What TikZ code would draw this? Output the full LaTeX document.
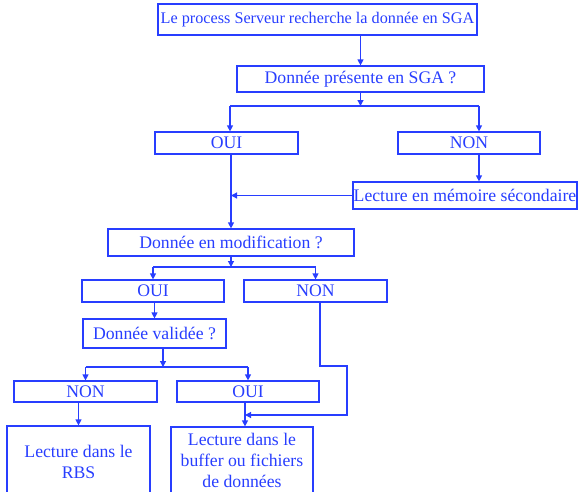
\documentclass[tikz,border=0pt]{standalone}
\usepackage{fontspec}
\setmainfont{Liberation Serif}
\usetikzlibrary{arrows.meta}
\definecolor{flow}{RGB}{40,62,255}
\begin{document}
\begin{tikzpicture}[x=1pt,y=-1pt,
  box/.style={draw=flow,line width=1.2pt,text=flow,inner sep=0pt,align=center,
    font=\fontsize{17.7}{21}\selectfont},
  arr/.style={draw=flow,line width=1.2pt,-{Triangle[length=6pt,width=6pt]}},
  ln/.style={draw=flow,line width=1.2pt}]
\useasboundingbox (0,0) rectangle (578,491);

% boxes
\node[box,minimum width=319pt,minimum height=31pt,font=\fontsize{16.2}{19}\selectfont] (b1) at (317.5,19.5) {Le process Serveur recherche la donnée en SGA};
\node[box,minimum width=247pt,minimum height=26pt] (b2) at (360.5,79) {Donnée présente en SGA ?};
\node[box,minimum width=143pt,minimum height=22pt] (oui1) at (226.5,143) {OUI};
\node[box,minimum width=142pt,minimum height=22pt] (non1) at (469,143) {NON};
\node[box,minimum width=224pt,minimum height=27pt] (lect) at (465,195.5) {Lecture en mémoire sécondaire};
\node[box,minimum width=246pt,minimum height=27pt] (modif) at (231,242.5) {Donnée en modification ?};
\node[box,minimum width=142pt,minimum height=22pt] (oui2) at (153,291) {OUI};
\node[box,minimum width=143pt,minimum height=22pt] (non2) at (315.5,291) {NON};
\node[box,minimum width=143pt,minimum height=29pt] (valid) at (154.5,333.5) {Donnée validée ?};
\node[box,minimum width=143pt,minimum height=21pt] (non3) at (85.5,391.5) {NON};
\node[box,minimum width=142pt,minimum height=21pt] (oui3) at (248,391.5) {OUI};
\node[box,minimum width=143pt,minimum height=71pt] (rbs) at (78.5,461.5) {Lecture dans le\\RBS};
\node[box,minimum width=142pt,minimum height=67pt] (buf) at (242,460.5) {Lecture dans le\\buffer ou fichiers\\de données};

% junction points
\coordinate (j1) at (360.5,106);
\coordinate (jl) at (230,106);
\coordinate (jr) at (479,106);
\coordinate (j2) at (231,267);
\coordinate (j3) at (163,367);
\coordinate (n2a) at (320,366);
\coordinate (n2b) at (347,366);
\coordinate (n2c) at (347,415);
\coordinate (k) at (245,415);

% connectors
\draw[arr] (b1.south -| b2.north) -- (b2.north);
\draw[arr] (b2.south -| j1) -- (j1);
\draw[ln] (jl) -- (jr);
\draw[arr] (jl) -- (jl |- oui1.north);
\draw[arr] (jr) -- (jr |- non1.north);
\draw[arr] (non1.south -| jr) -- (lect.north -| jr);
\draw[arr] (oui1.south -| modif.north) -- (modif.north);
\draw[arr] (lect.west) -- (lect.west -| modif.north);
\draw[arr] (modif.south) -- (j2);
\draw[ln] (oui2.north |- j2) -- (non2.north |- j2);
\draw[arr] (oui2.north |- j2) -- (oui2.north);
\draw[arr] (non2.north |- j2) -- (non2.north);
\draw[arr] (oui2.south -| valid.north) -- (valid.north);
\draw[arr] (valid.south -| j3) -- (j3);
\draw[ln] (non3.north |- j3) -- (oui3.north |- j3);
\draw[arr] (non3.north |- j3) -- (non3.north);
\draw[arr] (oui3.north |- j3) -- (oui3.north);
\draw[arr] (rbs.north |- non3.south) -- (rbs.north);
\draw[arr] (oui3.south -| k) -- (buf.north -| k);
\draw[arr] (non2.south -| n2a) -- (n2a) -- (n2b) -- (n2c) -- (k);
\end{tikzpicture}
\end{document}
